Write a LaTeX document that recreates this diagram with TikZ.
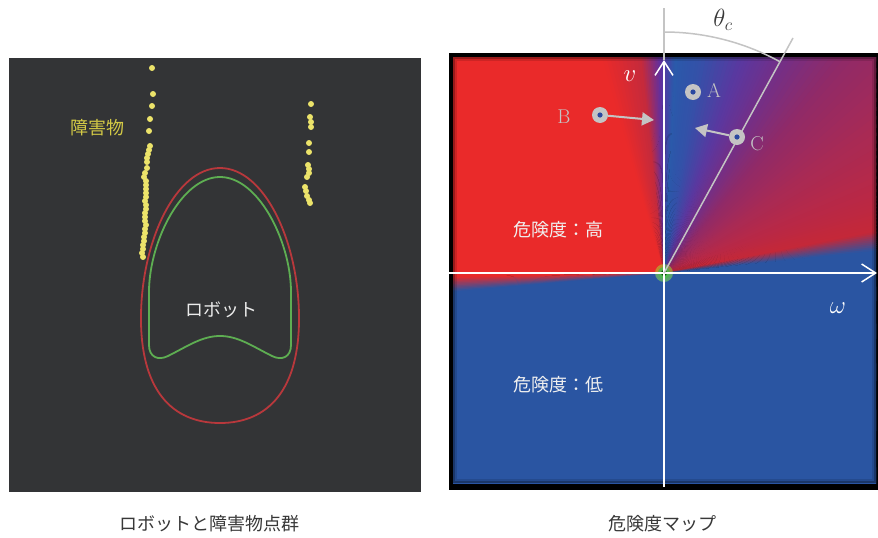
\documentclass[tikz,border=0pt]{standalone}
\usepackage{fontspec}
\newfontfamily\jp{Noto Sans CJK JP}
\usetikzlibrary{arrows.meta}
\definecolor{bgdark}{HTML}{333436}
\definecolor{eggred}{HTML}{B8383C}
\definecolor{egggreen}{HTML}{5EAE52}
\definecolor{dotyellow}{HTML}{ECE36A}
\definecolor{obsyellow}{HTML}{D4CA46}
\definecolor{captiongray}{HTML}{383838}
\definecolor{ptgray}{HTML}{C4C4C4}
\definecolor{dotblue}{HTML}{2A48A0}
\definecolor{mBlue}{HTML}{2A55A2}
\definecolor{mBlueB}{HTML}{2A5AAA}
\definecolor{mBlueC}{HTML}{3550A8}
\definecolor{mRed}{HTML}{EA2A2A}
\definecolor{mRedD}{HTML}{C42A3C}
\definecolor{mPur}{HTML}{6030A0}
\definecolor{mPa}{HTML}{5A38A0}
\definecolor{mPb}{HTML}{70308A}
\definecolor{mPc}{HTML}{902A68}
\definecolor{mPd}{HTML}{A82A55}
\definecolor{mPe}{HTML}{BA2845}
\definecolor{mPf}{HTML}{C42838}
\tikzset{
  jptext/.style={font=\jp\fontsize{18}{22}\selectfont, inner sep=0pt},
  ptlabel/.style={text=ptgray, font=\fontsize{20}{22}\selectfont, inner sep=0pt},
  mathlabel/.style={font=\fontsize{24}{26}\selectfont, inner sep=0pt},
  ptmark/.style={circle, fill=ptgray, minimum size=16pt, inner sep=0pt,
    path picture={\fill[dotblue] (path picture bounding box.center) circle (2.6pt);}},
  ptarrow/.style={draw=ptgray, line width=2pt, -{Triangle[length=12pt,width=13pt]}},
  axis/.style={draw=white, line width=1.5pt, -{Straight Barb[length=14pt,width=18pt]}},
  obsdot/.style={fill=dotyellow},
  eggline/.style={line width=1.8pt},
}
\begin{document}
\begin{tikzpicture}[x=1pt,y=-1pt]
\useasboundingbox (0,0) rectangle (878,538);
\fill[white] (0,0) rectangle (878,538);

% ---------------- left panel ----------------
\fill[bgdark] (9,58) rectangle (421,492);
\draw[eggline, eggred] (220,168) .. controls (264,168) and (298,240) .. (299,315)
  .. controls (300,390) and (268,423) .. (220,423)
  .. controls (172,423) and (140,390) .. (141,315)
  .. controls (142,240) and (176,168) .. (220,168) -- cycle;
\draw[eggline, egggreen] (220,177) .. controls (258,177) and (290,240) .. (291,290)
  -- (291,345) .. controls (291,357) and (282,361) .. (272,356)
  .. controls (252,346) and (238,336) .. (220,336)
  .. controls (202,336) and (188,346) .. (168,356)
  .. controls (158,361) and (149,357) .. (149,345)
  -- (149,290) .. controls (150,240) and (182,177) .. (220,177) -- cycle;
\foreach \px/\py in {152/68,153/94,152/106,150/119,149/131,150/146,149/150,148/154,147/158,
  147/162,147/168,145/173,144/177,146/181,146/185,146/189,146/193,146/197,145/201,146/205,
  146/209,145/213,145/217,145/221,146/225,145/229,145/233,144/237,144/241,143/245,143/249,
  142/253,143/257,
  311/104,310/117,311/122,311/127,309/143,309/152,308/165,309/169,309/173,307/177,
  305/187,306/191,307/196,309/200,310/203}
  \fill[obsdot] (\px,\py) circle (3pt);
\node[jptext, text=obsyellow] (obs) at (97,128) {障害物};
\node[jptext, text=white!92!black] (robot) at (221,310) {ロボット};
\node[jptext, text=captiongray] (cap1) at (209,524) {ロボットと障害物点群};

% ---------------- right panel ----------------
\fill[black] (449,53) rectangle (878,490);
\begin{scope}
\clip (453,57) rectangle (876,483);
\foreach \aa/\ab/\ca/\cb in {-180/-95/mBlue/mBlue, -95/-91/mBlue/mRed, -91/-16/mRed/mRed,
  -16/-6/mRed/mRedD, -6/-1/mRedD/mPur, -1/3/mPur/mBlueB, 3/10/mBlueB/mBlueC,
  10/20/mBlueC/mPa, 20/28/mPa/mPb, 28/40/mPb/mPc, 40/55/mPc/mPd, 55/70/mPd/mPe,
  70/79/mPe/mPf, 79/84/mPf/mBlue, 84/181/mBlue/mBlue} {
  \foreach \i in {0,...,9} {
    \pgfmathtruncatemacro\p{95-10*\i}
    \pgfmathsetmacro\ta{\aa+(\ab-\aa)*\i/10}
    \pgfmathsetmacro\tb{\aa+(\ab-\aa)*(\i+1.4)/10}
    \fill[\ca!\p!\cb] (664,273) -- ({664+520*sin(\ta)},{273-520*cos(\ta)})
      -- ({664+520*sin(\tb)},{273-520*cos(\tb)}) -- cycle;
  }
}
\draw[black, opacity=0.35, line width=2pt] (454,58) rectangle (875,482);
\draw[black, opacity=0.12, line width=2pt] (456,60) rectangle (873,480);
\end{scope}

\coordinate (O) at (664,273);
% glow at origin
\fill[green!50!yellow!80!white, opacity=0.45] (O) circle (9pt);
\fill[green!60!black!70!white, opacity=0.85] (O) circle (6pt);
\fill[green!30!black] (O) circle (3pt);

% axes
\coordinate (vtop) at (664,60);
\coordinate (vbot) at (664,487);
\coordinate (wleft) at (449,273);
\coordinate (wright) at (877,273);
\coordinate (vext) at (664,8);
\coordinate (ctop) at (793,38);
\draw[ptgray, line width=1.5pt] (vext) -- (vtop);
\draw[axis] (vbot) -- (vtop);
\draw[axis] (wleft) -- (wright);
\draw[ptgray, line width=1.5pt] (O) -- (ctop);
\draw[ptgray, line width=1.5pt] plot[domain=0:28.8, samples=40] ({664+241*sin(\x)},{273-241*cos(\x)});

\node[mathlabel, text=captiongray] (theta) at (723,20) {$\theta_c$};
\node[mathlabel, text=white] (vlab) at (630,76) {$v$};
\node[mathlabel, text=white] (wlab) at (838,308) {$\omega$};

% points
\node[ptmark] (A) at (693,92) {};
\node[ptmark] (B) at (600,115) {};
\node[ptmark] (C) at (737,137) {};
\node[ptlabel] (Alab) at (714,90) {A};
\node[ptlabel] (Blab) at (564,117) {B};
\node[ptlabel] (Clab) at (757,144) {C};
\coordinate (Btip) at (654,120);
\coordinate (Ctip) at (695,128);
\draw[ptarrow] (B) -- (Btip);
\draw[ptarrow] (C) -- (Ctip);

\node[jptext, text=white!94!black] (high) at (558,230) {危険度：高};
\node[jptext, text=white!94!black] (low) at (558,385) {危険度：低};
\node[jptext, text=captiongray] (cap2) at (662,524) {危険度マップ};
\end{tikzpicture}
\end{document}
